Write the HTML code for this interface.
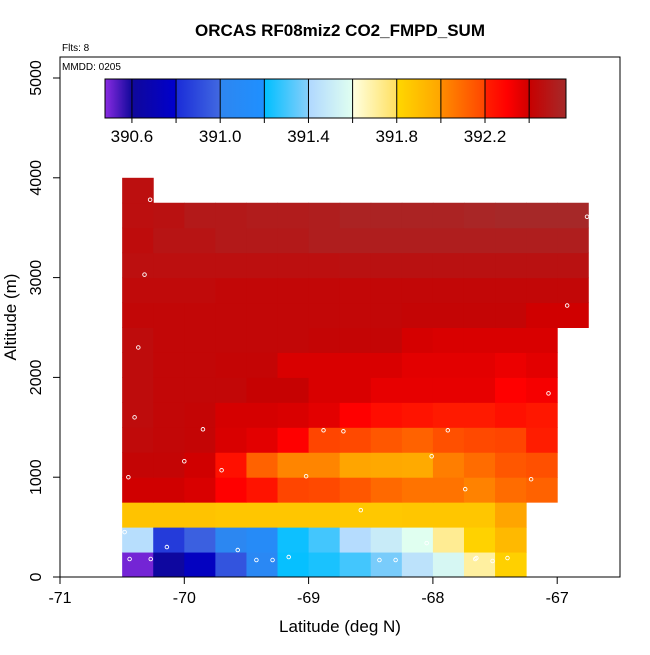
<!DOCTYPE html>
<html><head><meta charset="utf-8"><style>
body{margin:0;background:#fff}
svg text{font-family:"Liberation Sans",sans-serif}
</style></head><body>
<svg id="chart" width="650" height="650" xmlns="http://www.w3.org/2000/svg">
<defs><linearGradient id="cbgrad"></linearGradient></defs>
<rect width="650" height="650" fill="#fff"/>
<text x="340" y="36" text-anchor="middle" font-size="17" font-weight="bold">ORCAS RF08miz2 CO2_FMPD_SUM</text>
<text x="62" y="51" font-size="10">Flts: 8</text>
<g id="cells"></g>
<g id="pts"></g>
<rect x="60" y="57" width="560" height="520" fill="none" stroke="#000"/>
<text x="62" y="70" font-size="10">MMDD: 0205</text>
<g id="cb"></g>
<g id="axes"></g>
<text x="340" y="632" text-anchor="middle" font-size="17">Latitude (deg N)</text>
<text transform="translate(16,317) rotate(-90)" text-anchor="middle" font-size="17">Altitude (m)</text>
</svg>
<script>
const xTicks=[-71,-70,-69,-68,-67];
const yTicks=[0,1000,2000,3000,4000,5000];
const cbTicks=[390.6,391.0,391.4,391.8,392.2];
const lon0=-70.5, dLon=0.25, dAlt=250;
// rows j=0 (0-250 m) upward; null = no data
const grid=[
[390.5,390.62,390.75,390.93,391.05,391.21,391.24,391.3,391.38,391.45,391.56,391.7,391.83,null,null],
[391.43,390.85,390.97,391.02,391.1,391.22,391.3,391.42,391.5,391.6,391.72,391.82,391.92,null,null],
[391.88,391.88,391.88,391.87,391.87,391.87,391.87,391.86,391.86,391.87,391.87,391.87,392.0,null,null],
[392.4,392.4,392.38,392.3,392.24,392.2,392.19,392.15,392.1,392.07,392.07,392.03,392.09,392.12,null],
[392.42,392.42,392.4,392.25,392.12,392.02,392.02,392.0,391.99,391.98,392.04,392.09,392.15,392.17,null],
[392.44,392.43,392.42,392.38,392.36,392.3,392.2,392.19,392.15,392.12,392.17,392.19,392.2,392.21,null],
[392.45,392.43,392.42,392.39,392.39,392.38,392.36,392.3,392.26,392.24,392.22,392.22,392.25,392.23,null],
[392.45,392.43,392.43,392.43,392.41,392.41,392.38,392.38,392.35,392.35,392.35,392.35,392.3,392.32,null],
[392.45,392.43,392.43,392.42,392.42,392.38,392.38,392.38,392.38,392.36,392.36,392.36,392.34,392.36,null],
[392.45,392.43,392.43,392.43,392.43,392.43,392.42,392.42,392.42,392.39,392.38,392.38,392.38,392.38,null],
[392.43,392.43,392.43,392.43,392.43,392.43,392.43,392.43,392.43,392.42,392.42,392.42,392.42,392.4,392.4],
[392.44,392.44,392.44,392.43,392.43,392.43,392.43,392.43,392.43,392.43,392.43,392.43,392.43,392.43,392.43],
[392.46,392.46,392.46,392.46,392.46,392.46,392.46,392.47,392.47,392.47,392.47,392.47,392.47,392.47,392.47],
[392.45,392.48,392.48,392.5,392.5,392.5,392.52,392.52,392.52,392.52,392.52,392.52,392.52,392.52,392.52],
[392.46,392.47,392.5,392.5,392.51,392.51,392.52,392.54,392.54,392.54,392.54,392.55,392.56,392.56,392.56],
[392.46,null,null,null,null,null,null,null,null,null,null,null,null,null,null]
];
const ptLon=[-70.275,-70.32,-70.37,-70.4,-70.45,-69.85,-70.0,-69.7,-69.02,-68.88,-68.72,-68.01,-67.88,-67.74,-67.21,-67.07,-66.92,-66.76,-68.58,-70.48,-70.14,-69.57,-70.44,-70.27,-69.42,-69.29,-69.16,-68.43,-68.3,-67.65,-67.52,-67.4,-68.05,-67.66];
const ptAlt=[3780,3030,2300,1600,1000,1480,1160,1070,1010,1470,1460,1210,1470,880,980,1840,2720,3610,670,450,300,270,180,180,170,170,200,170,170,190,160,190,340,180];
const cbStops=[[390.478,'#8a2be2'],[390.6,'#10089a'],[390.8,'#0000cd'],[390.801,'#1a2cd8'],[391.0,'#4169e1'],[391.001,'#2e86f0'],[391.2,'#1e90ff'],[391.201,'#00bfff'],[391.4,'#87cefa'],[391.401,'#b0d8ff'],[391.6,'#e0fff0'],[391.601,'#ffffe0'],[391.8,'#ffe060'],[391.801,'#ffd700'],[392.0,'#ffa500'],[392.001,'#ff8c00'],[392.2,'#ff4500'],[392.201,'#ff2000'],[392.3,'#ff0000'],[392.4,'#d00000'],[392.401,'#c80000'],[392.567,'#a52a2a']];

const NS='http://www.w3.org/2000/svg';
const xs=v=>60+(v+71)*124.3;
const ys=a=>577-a*0.0998;
const cs=v=>105+(v-390.478)*(461/(392.567-390.478));
function hex(c){return [1,3,5].map(i=>parseInt(c.substr(i,2),16));}
function color(v){
  for(let i=1;i<cbStops.length;i++){
    if(v<=cbStops[i][0]){const a=cbStops[i-1],b=cbStops[i];const t=Math.max(0,(v-a[0])/(b[0]-a[0]));
      const A=hex(a[1]),B=hex(b[1]);return 'rgb('+A.map((x,k)=>Math.round(x+(B[k]-x)*t)).join(',')+')';}
  }
  return cbStops[cbStops.length-1][1];
}
function mk(tag,attrs,parent){const e=document.createElementNS(NS,tag);for(const k in attrs)e.setAttribute(k,attrs[k]);parent.appendChild(e);return e;}

const cells=document.getElementById('cells');
grid.forEach((row,j)=>row.forEach((v,i)=>{
  if(v===null)return;
  const x0=xs(lon0+i*dLon),x1=xs(lon0+(i+1)*dLon),y0=ys((j+1)*dAlt),y1=ys(j*dAlt);
  const r=mk('rect',{x:x0,y:y0,width:x1-x0+0.5,height:y1-y0+0.5,fill:color(v)},cells);
  
  
}));
const pts=document.getElementById('pts');
ptLon.forEach((lo,k)=>{
  const c=mk('circle',{cx:xs(lo),cy:ys(ptAlt[k]),r:1.8,fill:'none',stroke:'#fff','stroke-width':0.9},pts);
  
  
});
// colorbar
const grad=document.getElementById('cbgrad');
cbStops.forEach(s=>{const st=mk('stop',{offset:((cs(s[0])-105)/461*100)+'%','stop-color':s[1]},grad);});
const cb=document.getElementById('cb');
const bar=mk('rect',{x:105,y:79,width:461,height:39,fill:'url(#cbgrad)',stroke:'#000','stroke-width':1},cb);


for(let v=390.6;v<392.5;v+=0.2){
  const l=mk('line',{x1:cs(v),x2:cs(v),y1:79,y2:123,stroke:'#000','stroke-width':1},cb);
  
  
}
cbTicks.forEach(v=>{
  const t=mk('text',{x:cs(v),y:142,'text-anchor':'middle','font-size':17},cb);t.textContent=v.toFixed(1);
  
  
});
// axes
const ax=document.getElementById('axes');
xTicks.forEach(v=>{
  const l=mk('line',{x1:xs(v),x2:xs(v),y1:577,y2:584,stroke:'#000'},ax);
  
  
  const t=mk('text',{x:xs(v),y:603,'text-anchor':'middle','font-size':16},ax);t.textContent=v;
  
  
});
yTicks.forEach(v=>{
  const l=mk('line',{x1:53,x2:60,y1:ys(v),y2:ys(v),stroke:'#000'},ax);
  
  
  const t=mk('text',{transform:'translate(41,'+ys(v)+') rotate(-90)','text-anchor':'middle','font-size':16},ax);t.textContent=v;
  
  
});
</script>
</body></html>
